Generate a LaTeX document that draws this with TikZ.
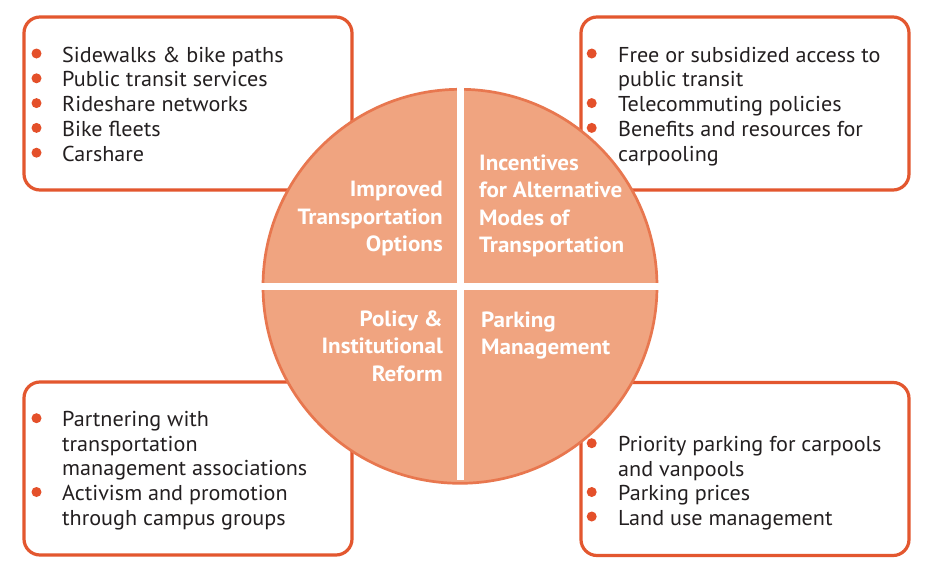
\documentclass[tikz,border=0pt]{standalone}
\usepackage{fontspec}
\setmainfont{PT Sans}
\newfontfamily\bodyfont[FakeStretch=1.03]{PT Sans}
\newfontfamily\hubfont[FakeStretch=1.05]{PT Sans}
\definecolor{boxred}{HTML}{E3572F}
\definecolor{bulletred}{HTML}{E4502A}
\definecolor{hubfill}{HTML}{F0A480}
\definecolor{hubedge}{HTML}{E8774F}
\definecolor{txt}{HTML}{231F20}
\begin{document}
\begin{tikzpicture}[x=1pt,y=-1pt,
  box/.style={draw=boxred, line width=3.2pt, rounded corners=16pt, minimum width=328pt, minimum height=173pt, inner sep=0pt, outer sep=0pt, fill=white},
  item/.style={anchor=base west, inner sep=0pt, font=\bodyfont\fontsize{21.5}{25}\selectfont, text=txt},
  dot/.style={circle, fill=bulletred, minimum size=10pt, inner sep=0pt},
  hub/.style={circle, fill=hubfill, draw=hubedge, line width=2.7pt, minimum size=394pt, inner sep=0pt, outer sep=0pt},
  labr/.style={anchor=base east, inner sep=0pt, font=\hubfont\fontsize{22}{27}\selectfont\bfseries, text=white},
  labl/.style={anchor=base west, inner sep=0pt, font=\hubfont\fontsize{22}{27}\selectfont\bfseries, text=white},
  gap/.style={draw=white, line width=7pt}
  ]
\useasboundingbox[fill=white] (0,0) rectangle (935,573);
% boxes
\node[box] (tl) at (188,103.5) {};
\node[box] (tr) at (745,103.5) {};
\node[box] (bl) at (188,468.5) {};
\node[box] (br) at (745,469) {};
% top-left items
\node[dot] (tl1d) at (36.5,53.5) {};
\node[item] (tl1) at (62,62) {Sidewalks \& bike paths};
\node[dot] (tl2d) at (36.5,78.3) {};
\node[item] (tl2) at (62,86.8) {Public transit services};
\node[dot] (tl3d) at (36.5,103.1) {};
\node[item] (tl3) at (62,111.6) {Rideshare networks};
\node[dot] (tl4d) at (36.5,127.9) {};
\node[item] (tl4) at (62,136.4) {Bike fleets};
\node[dot] (tl5d) at (36.5,152.7) {};
\node[item] (tl5) at (62,161.2) {Carshare};
% top-right items
\node[dot] (tr1d) at (591.7,53.5) {};
\node[item] (tr1) at (618,62) {Free or subsidized access to};
\node[item] (tr2) at (618,86.8) {public transit};
\node[dot] (tr3d) at (591.7,103.1) {};
\node[item] (tr3) at (618,111.6) {Telecommuting policies};
\node[dot] (tr4d) at (591.7,127.9) {};
\node[item] (tr4) at (618,136.4) {Benefits and resources for};
\node[item] (tr5) at (618,161.2) {carpooling};
% bottom-left items
\node[dot] (bl1d) at (36.5,418.2) {};
\node[item] (bl1) at (62,426.7) {Partnering with};
\node[item] (bl2) at (62,451.3) {transportation};
\node[item] (bl3) at (62,475.9) {management associations};
\node[dot] (bl4d) at (36.5,492) {};
\node[item] (bl4) at (62,500.5) {Activism and promotion};
\node[item] (bl5) at (62,525.1) {through campus groups};
% bottom-right items
\node[dot] (br1d) at (591.7,443.2) {};
\node[item] (br1) at (618,451.7) {Priority parking for carpools};
\node[item] (br2) at (618,476.1) {and vanpools};
\node[dot] (br3d) at (591.7,492) {};
\node[item] (br3) at (618,500.5) {Parking prices};
\node[dot] (br4d) at (591.7,516.5) {};
\node[item] (br4) at (618,525) {Land use management};
% hub
\node[hub] (hub) at (460,286.3) {};
\draw[gap] (hub.north) ++(0,-3) -- ([yshift=3pt]hub.south);
\draw[gap] (hub.west) ++(-3,0) -- ([xshift=3pt]hub.east);
% hub labels
\node[labr] (q1a) at (443,196.7) {Improved};
\node[labr] (q1b) at (443,224) {Transportation};
\node[labr] (q1c) at (443,251.7) {Options};
\node[labl] (q2a) at (479,170) {Incentives};
\node[labl] (q2b) at (479,197.7) {for Alternative};
\node[labl] (q2c) at (479,225) {Modes of};
\node[labl] (q2d) at (479,252.7) {Transportation};
\node[labr] (q3a) at (443,326.7) {Policy \&};
\node[labr] (q3b) at (443,353.3) {Institutional};
\node[labr] (q3c) at (443,381.7) {Reform};
\node[labl] (q4a) at (481,327) {Parking};
\node[labl] (q4b) at (481,354) {Management};
\end{tikzpicture}
\end{document}
